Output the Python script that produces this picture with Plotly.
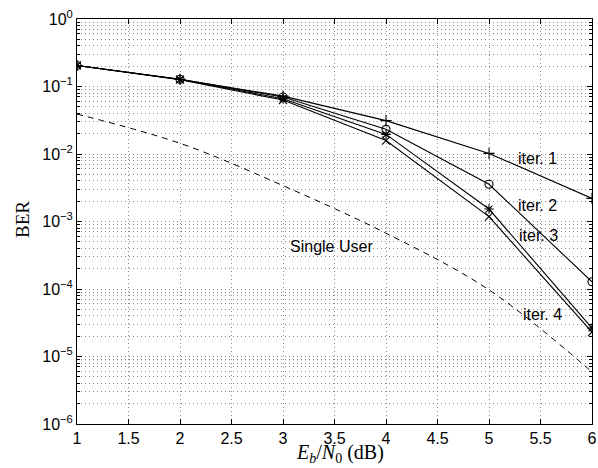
import plotly.graph_objects as go

ebn0 = [1, 2, 3, 4, 5, 6]
iter1 = [0.205, 0.128, 0.072, 0.0312, 0.0102, 0.0022]
iter2 = [0.205, 0.128, 0.070, 0.0232, 0.00356, 0.000128]
iter3 = [0.205, 0.127, 0.066, 0.0195, 0.00153, 0.0000264]
iter4 = [0.205, 0.126, 0.063, 0.0158, 0.00118, 0.0000230]
single_user = [0.039, 0.0144, 0.0034, 0.00067, 0.000097, 0.0000059]

series = [
    ("iter. 1", iter1, "cross-thin"),
    ("iter. 2", iter2, "circle-open"),
    ("iter. 3", iter3, "asterisk-open"),
    ("iter. 4", iter4, "x-thin"),
]

labels = [
    ("iter. 1", 5.466, -2.06),
    ("iter. 2", 5.466, -2.756),
    ("iter. 3", 5.485, -3.20),
    ("iter. 4", 5.515, -4.385),
    ("Single User", 3.466, -3.363),
]

y_tickvals = [1e-6, 1e-5, 1e-4, 1e-3, 1e-2, 1e-1, 1]
y_ticktext = ["10<sup>−6</sup>", "10<sup>−5</sup>", "10<sup>−4</sup>", "10<sup>−3</sup>",
              "10<sup>−2</sup>", "10<sup>−1</sup>", "10<sup>0</sup>"]
x_tickvals = [1, 1.5, 2, 2.5, 3, 3.5, 4, 4.5, 5, 5.5, 6]
x_ticktext = ["1", "1.5", "2", "2.5", "3", "3.5", "4", "4.5", "5", "5.5", "6"]

GRID = "#8a8a8a"
DOT = "1px,3px"

fig = go.Figure()
for name, vals, sym in series:
    fig.add_trace(go.Scatter(
        x=ebn0, y=vals, mode="lines+markers", name=name,
        line=dict(color="black", width=1.1),
        marker=dict(symbol=sym, size=8, color="black",
                    line=dict(color="black", width=1.1)),
        showlegend=False,
    ))
fig.add_trace(go.Scatter(
    x=ebn0, y=single_user, mode="lines", name="Single User",
    line=dict(color="black", width=1, dash="6px,5px"),
    line_shape="spline",
    showlegend=False,
))

for text, x, y in labels:
    fig.add_annotation(x=x, y=y, text=text, showarrow=False,
                       font=dict(family="Liberation Sans, Arial", size=16, color="black"),
                       xanchor="center", yanchor="middle")

# axis titles (plot area spans 515 x 405 px)
fig.add_annotation(xref="paper", yref="paper", x=(340 - 77) / 515, y=-(454 - 424) / 405,
                   text="<i>E</i><sub><i>b</i></sub>/<i>N</i><sub>0</sub> (dB)",
                   showarrow=False, xanchor="center", yanchor="middle",
                   font=dict(family="Liberation Serif, Times New Roman", size=20, color="black"))
fig.add_annotation(xref="paper", yref="paper", x=-(77 - 22) / 515, y=(424 - 220) / 405,
                   text="BER", textangle=-90,
                   showarrow=False, xanchor="center", yanchor="middle",
                   font=dict(family="Liberation Serif, Times New Roman", size=19, color="black"))

fig.update_layout(
    width=598, height=468,
    margin=dict(l=77, r=6, t=19, b=44, autoexpand=False),
    paper_bgcolor="white", plot_bgcolor="white",
    font=dict(family="Liberation Sans, Arial", size=16, color="black"),
)
fig.update_xaxes(
    range=[1, 6], tickvals=x_tickvals, ticktext=x_ticktext, automargin=False,
    ticklabeloverflow="allow",
    showline=True, linecolor="black", linewidth=1, mirror="ticks",
    ticks="inside", ticklen=5, tickcolor="black",
    showgrid=True, gridcolor=GRID, griddash=DOT, gridwidth=1,
    zeroline=False,
)
fig.update_yaxes(
    type="log", range=[-6, 0], tickvals=y_tickvals, ticktext=y_ticktext, automargin=False,
    ticklabeloverflow="allow",
    showline=True, linecolor="black", linewidth=1, mirror="ticks",
    ticks="inside", ticklen=5, tickcolor="black",
    showgrid=True, gridcolor=GRID, griddash=DOT, gridwidth=1,
    zeroline=False,
    minor=dict(dtick="D1", ticks="inside", ticklen=3, tickcolor="black",
               showgrid=True, gridcolor=GRID, griddash=DOT, gridwidth=1),
)

fig.write_html("out.html", config={"displayModeBar": False},
               post_script="document.body.style.margin='0';document.body.style.overflow='hidden';")
